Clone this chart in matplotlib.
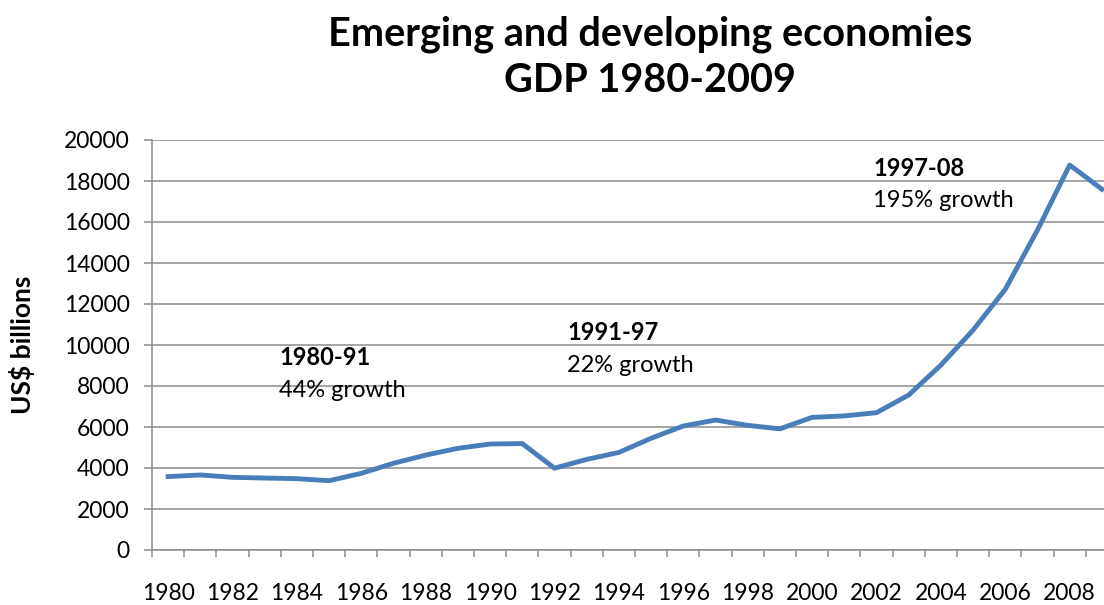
import numpy as np
import matplotlib
matplotlib.use("Agg")
import matplotlib.pyplot as plt

plt.rcParams["font.family"] = ["Lato", "DejaVu Sans"]

# GDP of emerging and developing economies, US$ billions
years = list(range(1980, 2010))
gdp = [3580, 3660, 3545, 3510, 3480, 3380, 3740, 4230, 4630, 4960,
       5170, 5190, 3990, 4420, 4760, 5450, 6050, 6340, 6080, 5910,
       6470, 6540, 6700, 7560, 9020, 10730, 12720, 15610, 18780, 17600]

periods = ["1980-91", "1991-97", "1997-08"]
growth = ["44% growth", "22% growth", "195% growth"]
label_years = [1983.45, 1992.4, 2001.9]
label_values = [9370, 10590, 18630]

line_color = "#4a7ebb"
grid_color = "#8c8c8c"

fig = plt.figure(figsize=(11.04, 6.05), dpi=100)
ax = fig.add_axes([152 / 1104, 55 / 605, 966 / 1104, 410 / 605])

x = np.arange(len(years))
ax.plot(x, gdp, color=line_color, lw=3.5, solid_joinstyle="round", zorder=3)

ax.set_xlim(-0.5, len(years) - 0.5)
ax.set_ylim(0, 20000)
ax.set_yticks(np.arange(0, 20001, 2000))
ax.yaxis.grid(True, color=grid_color, lw=1.1)
ax.set_axisbelow(True)

# category boundaries get the tick marks, every other year gets a label
ax.set_xticks(np.arange(-0.5, len(years), 1))
ax.set_xticklabels([])
ax.set_xticks(x[::2], minor=True)
ax.set_xticklabels([str(y) for y in years[::2]], minor=True)
ax.tick_params(axis="x", which="major", length=5, width=1.1, color=grid_color)
ax.tick_params(axis="x", which="minor", length=0, pad=24, labelsize=16.5)
ax.tick_params(axis="y", length=6, width=1.1, color=grid_color, pad=10, labelsize=16.5)

for side in ["top", "right"]:
    ax.spines[side].set_visible(False)
for side in ["left", "bottom"]:
    ax.spines[side].set_color(grid_color)
    ax.spines[side].set_linewidth(1.1)

for yr, val, p, g in zip(label_years, label_values, periods, growth):
    xi = yr - years[0]
    ax.text(xi, val, p, fontsize=17, fontweight="bold", va="center", ha="left")
    ax.text(xi, val - 1600, g, fontsize=17, va="center", ha="left")

fig.text(0.589, 0.905, "Emerging and developing economies\nGDP 1980-2009",
         ha="center", va="center", fontsize=28.5, fontweight="bold", linespacing=1.3)
fig.text(0.02, 0.43, "US$ billions", rotation=90, ha="center", va="center",
         fontsize=19, fontweight="bold")

fig.savefig("out.png", dpi=100)
